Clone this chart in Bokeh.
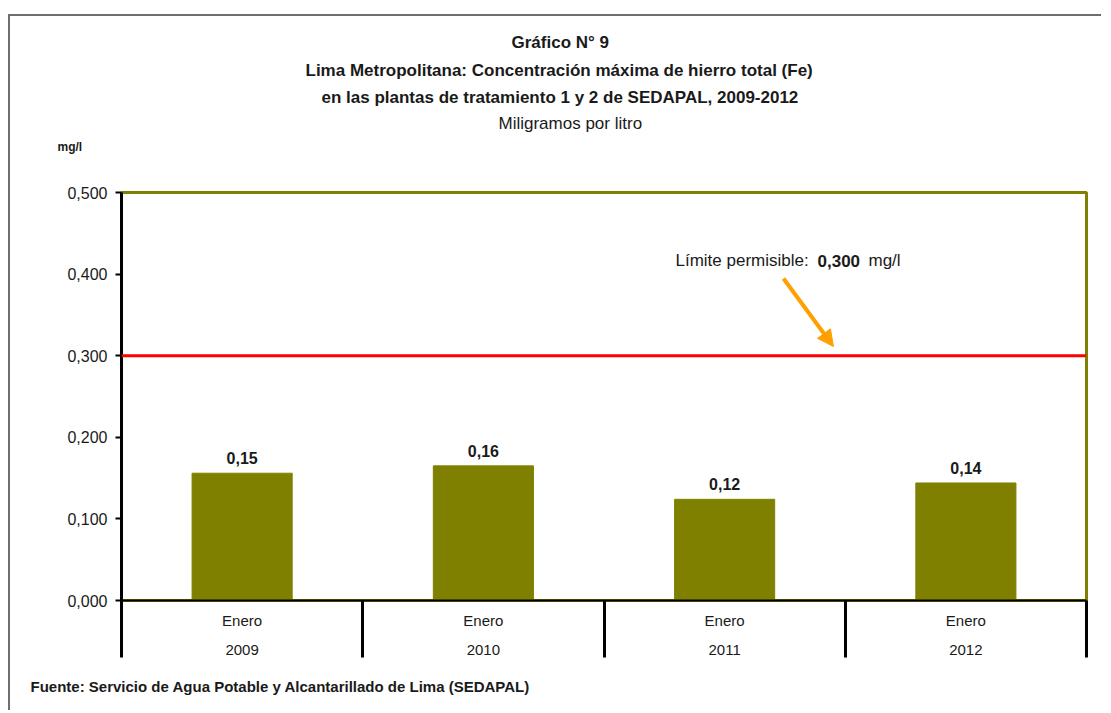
from bokeh.plotting import figure
from bokeh.models import (Range1d, FixedTicker, Span, Label, LabelSet, ColumnDataSource,
                          Arrow, NormalHead, Title)
from bokeh.core.properties import value
from bokeh.embed import file_html
from bokeh.resources import INLINE

# ---- data ----
years = ["2009", "2010", "2011", "2012"]
months = ["Enero", "Enero", "Enero", "Enero"]
values = [0.156, 0.165, 0.124, 0.144]
value_labels = ["0,15", "0,16", "0,12", "0,14"]
limit_value = 0.300
y_ticks = [0.0, 0.1, 0.2, 0.3, 0.4, 0.5]
y_tick_labels = ["0,000", "0,100", "0,200", "0,300", "0,400", "0,500"]

OLIVE = "#808000"
SANS = "Liberation Sans"
TXT = "#1a1a1a"

xs = [i + 0.5 for i in range(len(years))]
src = ColumnDataSource(dict(x=xs, top=values, lab=value_labels))

p = figure(width=1093, height=696, output_backend="svg", toolbar_location=None,
           x_range=Range1d(0, len(years)), y_range=Range1d(y_ticks[0], y_ticks[-1]),
           min_border_left=111, min_border_right=17, min_border_top=176, min_border_bottom=112)
p.styles = {"border-top": "2px solid #6e6e6e", "border-left": "2px solid #6e6e6e",
            "margin-left": "8px", "margin-top": "14px"}
p.grid.visible = False
p.outline_line_color = OLIVE
p.outline_line_width = 3
p.background_fill_color = "white"
p.border_fill_color = "white"

# y axis
ya = p.yaxis[0]
ya.ticker = FixedTicker(ticks=y_ticks)
ya.major_label_overrides = {t: l for t, l in zip(y_ticks, y_tick_labels)}
ya.axis_line_color = "black"
ya.axis_line_width = 3
ya.major_tick_line_color = "black"
ya.major_tick_line_width = 2
ya.major_tick_out = 6
ya.major_tick_in = 0
ya.minor_tick_line_color = None
ya.major_label_text_font = SANS
ya.major_label_text_font_size = "16px"
ya.major_label_text_color = TXT
ya.major_label_standoff = 8

# x axis: labels at category centres, separators as minor ticks at boundaries
xa = p.xaxis[0]
xa.ticker = FixedTicker(ticks=xs, minor_ticks=list(range(len(years) + 1)))
xa.major_label_overrides = {x: f"{m}\n{y}" for x, m, y in zip(xs, months, years)}
xa.major_label_text_font = SANS
xa.major_label_text_font_size = "15px"
xa.major_label_text_color = TXT
xa.major_label_text_line_height = 1.73
xa.major_label_standoff = -46
xa.axis_line_color = "black"
xa.axis_line_width = 2
xa.major_tick_line_color = None
xa.major_tick_out = 0
xa.major_tick_in = 0
xa.minor_tick_line_color = "black"
xa.minor_tick_line_width = 3
xa.minor_tick_out = 57
xa.minor_tick_in = 0

# bars
p.vbar(x="x", top="top", bottom=0, width=0.415, source=src, fill_color=OLIVE, line_color=OLIVE)

# limit line
p.add_layout(Span(location=limit_value, dimension="width", line_color="#FF0000", line_width=3))

# bar value labels
p.add_layout(LabelSet(x="x", y="top", text="lab", source=src, y_offset=9,
                      text_align="center", text_baseline="bottom",
                      text_font=value(SANS), text_font_style="bold", text_font_size="16px",
                      text_color=TXT))

# titles: p.title is outermost; added "above" titles stack from the frame outward
p.title.text = "Gráfico N° 9"
p.title.align = "left"
p.title.offset = 390
p.title.text_font = SANS
p.title.text_font_style = "bold"
p.title.text_font_size = "17px"
p.title.text_color = TXT
p.title.standoff = 10

# white spacer between the frame and "mg/l"
p.add_layout(Title(text=".", text_font_size="1px", text_color="white", standoff=33), "above")
above = [("mg/l", "bold", "12px", -64, 6),
         ("Miligramos por litro", "normal", "17px", 377, 4),
         ("en las plantas de tratamiento 1 y 2 de SEDAPAL, 2009-2012", "bold", "17px", 200, 6),
         ("Lima Metropolitana: Concentración máxima de hierro total (Fe)", "bold", "17px", 184, 5)]
for t, st, fs, off, so in above:
    p.add_layout(Title(text=t, align="left", offset=off, text_font=SANS,
                       text_font_style=st, text_font_size=fs, text_color=TXT, standoff=so), "above")

p.add_layout(Title(text="Fuente: Servicio de Agua Potable y Alcantarillado de Lima (SEDAPAL)",
                   align="left", offset=-91, text_font=SANS, text_font_style="bold",
                   text_font_size="15px", text_color=TXT, standoff=31), "below")

# limit annotation
for txt, xx, st in [("Límite permisible:", 554, "normal"), ("0,300", 696, "bold"), ("mg/l", 747, "normal")]:
    p.add_layout(Label(x=xx, y=340, x_units="screen", y_units="screen", text=txt,
                       text_align="left", text_baseline="middle", text_font=SANS,
                       text_font_style=st, text_font_size="17px", text_color=TXT))
p.add_layout(Arrow(x_start=2.744, y_start=0.3946, x_end=2.951, y_end=0.3113,
                   line_color="#FFA000", line_width=4,
                   end=NormalHead(size=16, fill_color="#FFA000", line_color="#FFA000")))

open("out.html", "w").write(file_html(p, INLINE))
